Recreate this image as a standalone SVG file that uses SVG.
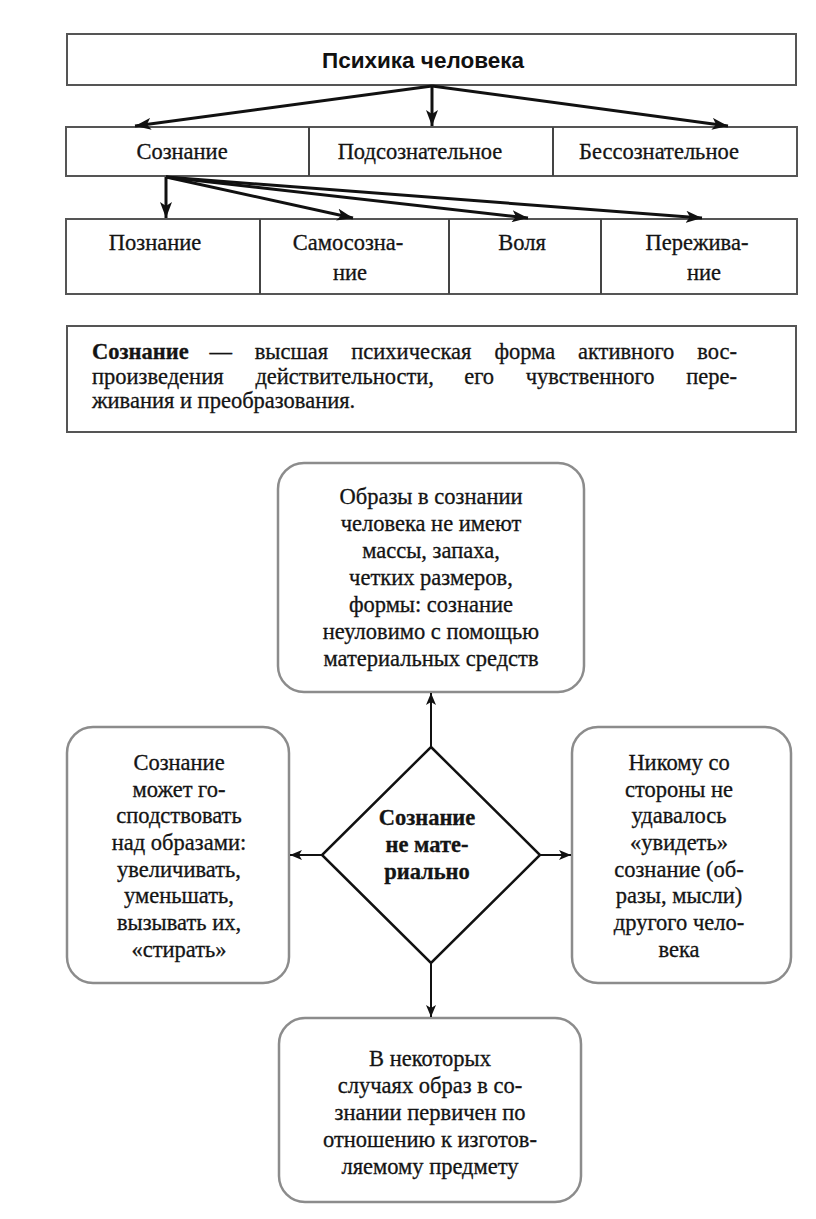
<svg xmlns="http://www.w3.org/2000/svg" width="816" height="1219" viewBox="0 0 816 1219">
<defs>
<style>
.t{font-family:"Liberation Serif","Times New Roman",serif;font-size:22.5px;fill:#141414;stroke:#141414;stroke-width:0.3;text-anchor:middle}
.b{font-weight:bold}
.title{font-family:"Liberation Sans",Arial,sans-serif;font-size:22.5px;font-weight:bold;fill:#111;text-anchor:middle}
.box{fill:#fff;stroke:#555;stroke-width:2}
.rbox{fill:#fff;stroke:#8c8c8c;stroke-width:2.5}
.div{stroke:#444;stroke-width:2}
.thick{stroke:#111;stroke-width:3;fill:none}
.thin{stroke:#111;stroke-width:2;fill:none}
.d{font-family:"Liberation Serif","Times New Roman",serif;font-size:22.5px;fill:#141414;stroke:#141414;stroke-width:0.3}
</style>
<marker id="ah" markerUnits="userSpaceOnUse" viewBox="0 0 16 12" refX="16" refY="6" markerWidth="16" markerHeight="12" orient="auto">
<path d="M0,0 L16,6 L0,12 L4,6 z" fill="#111"/>
</marker>
<marker id="as" markerUnits="userSpaceOnUse" viewBox="0 0 12 10" refX="12" refY="5" markerWidth="12" markerHeight="10" orient="auto">
<path d="M0,0 L12,5 L0,10 L3,5 z" fill="#111"/>
</marker>
</defs>
<rect width="816" height="1219" fill="#fff"/>

<g id="psyche">
<rect class="box" x="67" y="34" width="729" height="51" stroke="#777"/>
<text class="title" x="423" y="68">Психика человека</text>
</g>

<g id="level2">
<rect class="box" x="66" y="127" width="731" height="49" stroke="#333"/>
<line class="div" x1="309" y1="127" x2="309" y2="176"/>
<line class="div" x1="553" y1="127" x2="553" y2="176"/>
<g id="soznanie"><text class="t" x="182" y="159">Сознание</text></g>
<g id="podsoznatelnoe"><text class="t" x="420" y="159">Подсознательное</text></g>
<g id="bessoznatelnoe"><text class="t" x="659" y="159">Бессознательное</text></g>
</g>

<g id="level3">
<rect class="box" x="66" y="219" width="731" height="75" stroke="#333"/>
<line class="div" x1="260" y1="219" x2="260" y2="294"/>
<line class="div" x1="449" y1="219" x2="449" y2="294"/>
<line class="div" x1="601" y1="219" x2="601" y2="294"/>
<g id="poznanie"><text class="t" x="155" y="250">Познание</text></g>
<g id="samosoznanie"><text class="t" x="348" y="250">Самосозна-</text><text class="t" x="350" y="280">ние</text></g>
<g id="volya"><text class="t" x="522" y="250">Воля</text></g>
<g id="perezhivanie"><text class="t" x="697" y="250">Пережива-</text><text class="t" x="704" y="280">ние</text></g>
</g>

<g id="definition">
<rect class="box" x="67" y="326" width="729" height="106" stroke="#444"/>
<text class="d" y="359"><tspan x="92" font-weight="bold">Сознание</tspan><tspan x="209.6">—</tspan><tspan x="254.7">высшая</tspan><tspan x="351.3">психическая</tspan><tspan x="494.4">форма</tspan><tspan x="578">активного</tspan><tspan x="737" text-anchor="end">вос-</tspan></text>
<text class="d" y="383.5"><tspan x="92">произведения</tspan><tspan x="255.4">действительности,</tspan><tspan x="464.2">его</tspan><tspan x="525.8">чувственного</tspan><tspan x="737" text-anchor="end">пере-</tspan></text>
<text class="d" x="92" y="408">живания и преобразования.</text>
</g>

<g id="images">
<rect class="rbox" x="278" y="463" width="306" height="229" rx="26"/>
<text class="t" x="431" y="504">Образы в сознании</text>
<text class="t" x="431" y="531">человека не имеют</text>
<text class="t" x="431" y="558">массы, запаха,</text>
<text class="t" x="431" y="585">четких размеров,</text>
<text class="t" x="431" y="612">формы: сознание</text>
<text class="t" x="431" y="639">неуловимо с помощью</text>
<text class="t" x="431" y="666">материальных средств</text>
</g>

<g id="dominate">
<rect class="rbox" x="67" y="727" width="222" height="256" rx="26"/>
<text class="t" x="179" y="770">Сознание</text>
<text class="t" x="179" y="797">может го-</text>
<text class="t" x="179" y="823">сподствовать</text>
<text class="t" x="179" y="850">над образами:</text>
<text class="t" x="179" y="877">увеличивать,</text>
<text class="t" x="179" y="903">уменьшать,</text>
<text class="t" x="179" y="930">вызывать их,</text>
<text class="t" x="179" y="957">«стирать»</text>
</g>

<g id="nobody">
<rect class="rbox" x="572" y="727" width="219" height="256" rx="26"/>
<text class="t" x="679" y="770">Никому со</text>
<text class="t" x="679" y="797">стороны не</text>
<text class="t" x="679" y="823">удавалось</text>
<text class="t" x="679" y="850">«увидеть»</text>
<text class="t" x="679" y="877">сознание (об-</text>
<text class="t" x="679" y="903">разы, мысли)</text>
<text class="t" x="679" y="930">другого чело-</text>
<text class="t" x="679" y="957">века</text>
</g>

<g id="primary">
<rect class="rbox" x="279" y="1018" width="302" height="184" rx="26"/>
<text class="t" x="430" y="1066">В некоторых</text>
<text class="t" x="430" y="1093">случаях образ в со-</text>
<text class="t" x="430" y="1120">знании первичен по</text>
<text class="t" x="430" y="1147">отношению к изготов-</text>
<text class="t" x="430" y="1174">ляемому предмету</text>
</g>

<g id="immaterial">
<polygon points="431,747 540,855 431,963 322,855" fill="#fff" stroke="#111" stroke-width="2.5"/>
<text class="t b" x="427" y="825">Сознание</text>
<text class="t b" x="427" y="852">не мате-</text>
<text class="t b" x="427" y="879">риально</text>
</g>

<g id="connectors">
<line class="thick" x1="432" y1="86" x2="135" y2="126" marker-end="url(#ah)"/>
<line class="thick" x1="432" y1="86" x2="432" y2="126" marker-end="url(#ah)"/>
<line class="thick" x1="432" y1="86" x2="728" y2="126" marker-end="url(#ah)"/>
<line class="thick" x1="166" y1="177" x2="166" y2="218" marker-end="url(#ah)"/>
<line class="thick" x1="166" y1="177" x2="353" y2="218" marker-end="url(#ah)"/>
<line class="thick" x1="166" y1="177" x2="528" y2="218" marker-end="url(#ah)"/>
<line class="thick" x1="166" y1="177" x2="702" y2="218" marker-end="url(#ah)"/>
<line class="thin" x1="431" y1="747" x2="431" y2="693" marker-end="url(#as)"/>
<line class="thin" x1="322" y1="855" x2="290" y2="855" marker-end="url(#as)"/>
<line class="thin" x1="540" y1="855" x2="571" y2="855" marker-end="url(#as)"/>
<line class="thin" x1="431" y1="963" x2="431" y2="1017" marker-end="url(#as)"/>
</g>
</svg>
